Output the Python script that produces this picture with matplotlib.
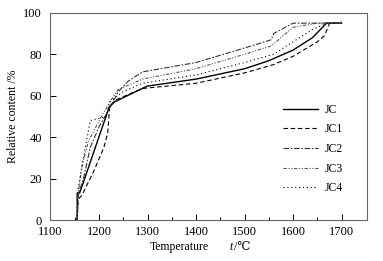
import matplotlib.pyplot as plt
from matplotlib.ticker import MultipleLocator, FixedLocator

plt.rcParams['font.family'] = ['Liberation Serif', 'DejaVu Serif']

t_jc = [1155, 1155, 1160, 1166, 1221, 1232, 1299, 1400, 1500, 1549, 1600, 1640, 1669, 1700]
jc = [0, 13, 13, 17, 54.5, 57, 64.6, 68, 73, 76.8, 82, 88, 95, 95]

t_jc1 = [1155, 1157, 1165, 1190, 1210, 1218, 1222, 1235, 1290, 1400, 1500, 1560, 1600, 1650, 1665, 1675, 1700]
jc1 = [0, 10, 12, 24, 35, 42, 55, 58, 63.5, 66, 71, 75, 79, 86, 89, 95, 95.5]

t_jc2 = [1155, 1157, 1168, 1182, 1200, 1222, 1240, 1260, 1290, 1400, 1500, 1555, 1560, 1600, 1700]
jc2 = [0, 12, 20, 35, 45, 54, 62, 67, 71.5, 76, 83, 87, 90, 95, 95]

t_jc3 = [1155, 1157, 1164, 1178, 1205, 1225, 1240, 1290, 1400, 1500, 1555, 1600, 1650, 1700]
jc3 = [0, 12, 25, 38, 50, 58, 63, 68, 73, 80, 84, 93, 95, 95]

t_jc4 = [1155, 1157, 1168, 1182, 1215, 1222, 1250, 1290, 1400, 1500, 1560, 1600, 1640, 1670, 1700]
jc4 = [0, 15, 30, 48, 50, 57, 62, 66, 70, 76, 80, 86, 92, 95, 95]

fig = plt.figure(figsize=(3.83, 2.61), dpi=100)
ax = fig.add_axes([0.1318, 0.157, 0.826, 0.794])

lw = 0.8
ax.plot(t_jc, jc, color='black', lw=1.0, label='JC')
ax.plot(t_jc1, jc1, color='black', lw=lw, dashes=(4, 2.5), label='JC1')
ax.plot(t_jc2, jc2, color='#333333', lw=lw, dashes=(5, 1.5, 1.5, 1.5), label='JC2')
ax.plot(t_jc3, jc3, color='#555555', lw=lw, dashes=(3, 1.5, 1, 1.5, 1, 1.5), label='JC3')
ax.plot(t_jc4, jc4, color='black', lw=lw, dashes=(1, 2.5), label='JC4')

ax.set_xlim(1100, 1752)
ax.set_ylim(0, 100)
ax.xaxis.set_major_locator(MultipleLocator(100))
ax.xaxis.set_minor_locator(FixedLocator([1150, 1250, 1350, 1450, 1550, 1650]))
ax.yaxis.set_major_locator(MultipleLocator(20))
ax.tick_params(direction='in', labelsize=9, length=4, width=0.7, pad=4.5)
ax.tick_params(axis='y', pad=6)
ax.tick_params(which='minor', direction='in', length=2, width=0.7)
for s in ax.spines.values():
    s.set_color('#666666')
    s.set_linewidth(0.8)

# x label in pieces: upright word, italic t, unit
fig.text(150 / 383, 0.052, 'Temperature', fontsize=8.5, ha='left', va='center')
fig.text(229 / 383, 0.052, 't', fontsize=8.5, style='italic', ha='left', va='center')
fig.text(234 / 383, 0.052, '/\u2103', fontsize=8.5, ha='left', va='center')
ax.set_ylabel('Relative content /%', fontsize=8.5, labelpad=3)

ax.legend(loc='upper left', bbox_to_anchor=(0.715, 0.59), frameon=False, fontsize=8.5,
          handlelength=3.0, handletextpad=0.6, labelspacing=0.65, borderpad=0)

fig.savefig('out.png', dpi=100)
